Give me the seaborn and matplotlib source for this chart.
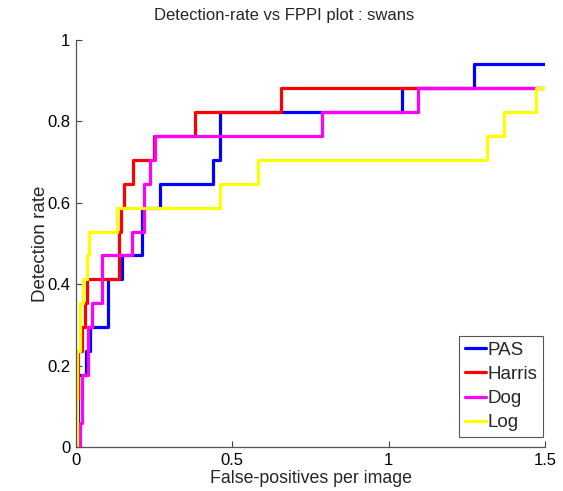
import numpy as np
import pandas as pd
import matplotlib
matplotlib.use("Agg")
import matplotlib.pyplot as plt
import seaborn as sns

# ---- data ----
methods = ["PAS", "Harris", "Dog", "Log"]

pas_fppi = [0, 0.006, 0.032, 0.045, 0.103, 0.147, 0.212, 0.269, 0.439, 0.462, 1.042, 1.272, 1.5]
pas_rate = [0, 0.176, 0.235, 0.294, 0.412, 0.471, 0.588, 0.647, 0.706, 0.824, 0.882, 0.941, 0.941]

harris_fppi = [0, 0.002, 0.006, 0.019, 0.029, 0.035, 0.138, 0.144, 0.154, 0.183, 0.250, 0.381, 0.657, 1.5]
harris_rate = [0, 0.118, 0.235, 0.294, 0.353, 0.412, 0.529, 0.588, 0.647, 0.706, 0.765, 0.824, 0.882, 0.882]

dog_fppi = [0, 0.013, 0.019, 0.038, 0.051, 0.083, 0.179, 0.218, 0.237, 0.253, 0.788, 1.093, 1.5]
dog_rate = [0, 0.059, 0.176, 0.294, 0.353, 0.471, 0.529, 0.647, 0.706, 0.765, 0.824, 0.882, 0.882]

log_fppi = [0, 0.003, 0.013, 0.022, 0.035, 0.042, 0.131, 0.462, 0.583, 1.314, 1.369, 1.471, 1.5]
log_rate = [0, 0.235, 0.353, 0.412, 0.471, 0.529, 0.588, 0.647, 0.706, 0.765, 0.824, 0.882, 0.882]

colors = ["#0000ff", "#ff0000", "#ff00ff", "#ffff00"]

x_ticks = [0, 0.5, 1, 1.5]
x_ticklabels = ["0", "0.5", "1", "1.5"]
y_ticks = [0, 0.2, 0.4, 0.6, 0.8, 1]
y_ticklabels = ["0", "0.2", "0.4", "0.6", "0.8", "1"]

frames = []
for name, xs, ys in zip(methods,
                        [pas_fppi, harris_fppi, dog_fppi, log_fppi],
                        [pas_rate, harris_rate, dog_rate, log_rate]):
    frames.append(pd.DataFrame({"fppi": xs, "rate": ys, "method": name}))
df = pd.concat(frames, ignore_index=True)

# ---- style ----
sns.set_style("ticks")
plt.rcParams["font.family"] = ["Liberation Sans", "DejaVu Sans"]

fig = plt.figure(figsize=(5.63, 4.91), dpi=100)
ax = fig.add_axes([76 / 563, 44 / 491, 469 / 563, 407 / 491])

sns.lineplot(data=df, x="fppi", y="rate", hue="method", hue_order=methods,
             palette=colors, estimator=None, sort=False,
             drawstyle="steps-post", linewidth=2.3, ax=ax, legend=True)

ax.set_xlim(0, 1.5)
ax.set_ylim(0, 1)
ax.set_xticks(x_ticks)
ax.set_xticklabels(x_ticklabels)
ax.set_yticks(y_ticks)
ax.set_yticklabels(y_ticklabels)
ax.tick_params(direction="in", length=4, width=0.8, colors="#444444",
               labelcolor="black", labelsize=12, pad=4)
for s in ["top", "right"]:
    ax.spines[s].set_visible(False)
for s in ["left", "bottom"]:
    ax.spines[s].set_color("#555555")
    ax.spines[s].set_linewidth(0.9)

ax.set_xlabel("False-positives per image", fontsize=12.8, labelpad=1.5)
ax.set_ylabel("Detection rate", fontsize=13.5, labelpad=-1)
fig.text(284 / 563, 1 - 15.5 / 491, "Detection-rate vs FPPI plot : swans",
         ha="center", va="center", fontsize=12)

handles, labels = ax.get_legend_handles_labels()
leg = ax.legend(handles, labels, loc="lower right", bbox_to_anchor=(0.9957, 0.0246),
                fontsize=13.5, frameon=True, fancybox=False, framealpha=1,
                edgecolor="#555555", handlelength=1.1, handletextpad=0.1,
                borderpad=0.3, labelspacing=0.38, borderaxespad=0)
leg.get_frame().set_linewidth(0.8)
for line in leg.get_lines():
    line.set_linewidth(2.3)

fig.savefig("out.png", dpi=100)
